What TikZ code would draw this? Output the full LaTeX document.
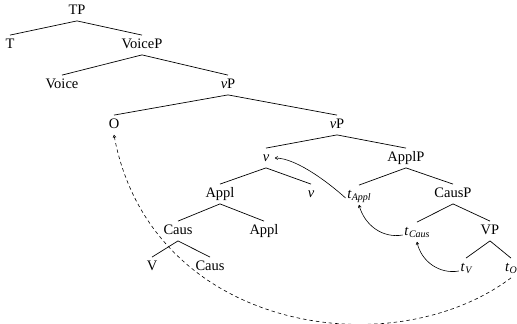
\documentclass[tikz,border=0pt]{standalone}
\usepackage{fontspec}
\setmainfont{Liberation Serif}
\usetikzlibrary{arrows.meta}
\newcommand{\tr}[1]{\textit{t}\kern0.3pt\raisebox{-0.35ex}{\fontsize{10}{11}\selectfont\itshape #1}}
\begin{document}
\begin{tikzpicture}[x=1pt,y=1pt,
  lbl/.style={inner xsep=1.5pt, inner ysep=3.2pt, text height=10pt, text depth=3pt,
    font=\fontsize{14.5}{16}\selectfont},
  branch/.style={line width=0.7pt},
  move/.style={line width=0.6pt, -{To[length=3pt,width=3.5pt]}},
  longmove/.style={move, dashed, dash pattern=on 3.5pt off 3pt}]
\useasboundingbox (0,0) rectangle (517,-324);
% node labels, one per tree position
\node[lbl] (TP)     at (77,-11)  {TP};
\node[lbl] (T)      at (10,-45)  {T};
\node[lbl] (VoiceP) at (142,-45) {VoiceP};
\node[lbl] (Voice)  at (62,-85)  {Voice};
\node[lbl] (vP1)    at (228,-85) {\textit{v}P};
\node[lbl] (O)      at (114,-125) {O};
\node[lbl] (vP2)    at (337,-125) {\textit{v}P};
\node[lbl] (vh)     at (266,-158) {\textit{v}};
\node[lbl] (ApplP)  at (406,-158) {ApplP};
\node[lbl] (Applb)  at (220,-194) {Appl};
\node[lbl] (v2)     at (311,-194) {\textit{v}};
\node[lbl] (tAppl)  at (359,-195) {\tr{Appl}};
\node[lbl] (CausP)  at (453,-194) {CausP};
\node[lbl] (Caus)   at (178,-231) {Caus};
\node[lbl] (Appl2)  at (264,-231) {Appl};
\node[lbl] (tCaus)  at (417,-232) {\tr{Caus}};
\node[lbl] (VP)     at (490,-231) {VP};
\node[lbl] (V)      at (152,-267) {V};
\node[lbl] (Caus2)  at (210,-267) {Caus};
\node[lbl] (tV)     at (466,-268) {\tr{V}};
\node[lbl] (tO)     at (511,-268) {\tr{O}};
% branches
\draw[branch] (TP.south) -- (T.north);
\draw[branch] (TP.south) -- (VoiceP.north);
\draw[branch] (VoiceP.south) -- (Voice.north);
\draw[branch] (VoiceP.south) -- (vP1.north);
\draw[branch] (vP1.south) -- (O.north);
\draw[branch] (vP1.south) -- (vP2.north);
\draw[branch] (vP2.south) -- (vh.north);
\draw[branch] (vP2.south) -- (ApplP.north);
\draw[branch] (vh.south) -- (Applb.north);
\draw[branch] (vh.south) -- (v2.north);
\draw[branch] (ApplP.south) -- (tAppl.north);
\draw[branch] (ApplP.south) -- (CausP.north);
\draw[branch] (Applb.south) -- (Caus.north);
\draw[branch] (Applb.south) -- (Appl2.north);
\draw[branch] (CausP.south) -- (tCaus.north);
\draw[branch] (CausP.south) -- (VP.north);
\draw[branch] (Caus.south) -- (V.north);
\draw[branch] (Caus.south) -- (Caus2.north);
\draw[branch] (VP.south) -- (tV.north);
\draw[branch] (VP.south) -- (tO.north);
% head movement
\draw[move, shorten >=4pt] ([yshift=-3pt]tAppl.west) .. controls +(-12,11) and +(27,0) .. (vh.east);
\draw[move] ([yshift=-3pt]tCaus.west) to[out=190,in=-75] (tAppl.south);
\draw[move] ([yshift=-3pt]tV.west) to[out=190,in=-78] (tCaus.south);
% object movement
\draw[longmove] (tO.south) .. controls +(-120,-90) and +(36,-196) .. (O.south);
\end{tikzpicture}
\end{document}
